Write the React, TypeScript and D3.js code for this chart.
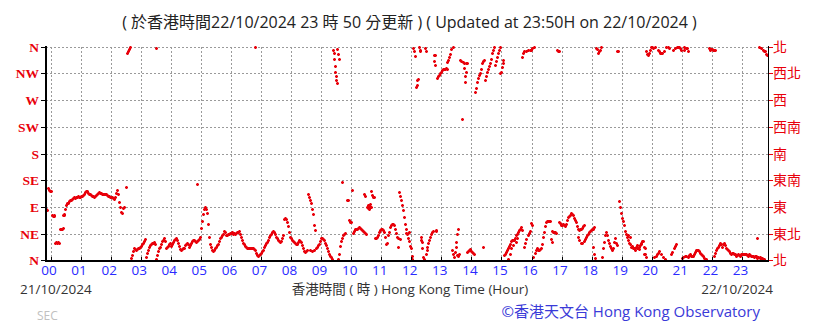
import React from 'react';
import * as d3 from 'd3';

const _ = null;

const hourLabels = ['00','01','02','03','04','05','06','07','08','09','10','11','12','13','14','15','16','17','18','19','20','21','22','23'];
const dirTicks = [0, 45, 90, 135, 180, 225, 270, 315, 360];
const dirLabelsEn = ['N', 'NE', 'E', 'SE', 'S', 'SW', 'W', 'NW', 'N'];
const dirLabelsZh = ['北', '東北', '東', '東南', '南', '西南', '西', '西北', '北'];

const titleText = '( 於香港時間22/10/2024 23 時 50 分更新 ) ( Updated at 23:50H on 22/10/2024 )';
const startDate = '21/10/2024';
const endDate = '22/10/2024';
const axisTitle = '香港時間 ( 時 ) Hong Kong Time (Hour)';
const credit = '©香港天文台 Hong Kong Observatory';

// wind direction (degrees) sampled every 2 minutes; prevDay = 23:50-23:58 of the previous day
const prevDay = [86, 84, 122, 119, 116];
const d00 = [117,76,75,74,30,31,29,31,30,52,53,52,54,77,87,93,96,97,100,101,102,103,105,106,105,107,107,108,107,106];
const d01 = [108,109,110,112,115,117,116,114,112,111,110,109,108,107,108,110,111,113,115,114,113,112,112,111,112,111,110,109,108,107];
const d02 = [107,106,105,104,106,113,118,112,98,90,82,80,88,90,_,123,350,353,356,359,4,9,16,20,19,17,19,21,20,22];
const d03 = [24,27,30,33,36,6,12,18,22,26,28,30,29,31,27,3,9,16,21,23,27,32,35,38,33,20,22,24,27,30];
const d04 = [24,28,31,34,36,37,34,30,24,19,17,19,20,21,25,28,30,27,22,25,29,32,34,35,33,31,33,35,36,40];
const d05 = [55,66,78,86,90,87,80,62,40,28,22,18,16,17,20,22,25,27,32,37,40,43,45,50,48,42,43,44,45,46];
const d06 = [46,47,45,46,44,46,47,48,49,45,40,35,30,27,24,22,21,20,20,21,20,21,20,19,17,13,9,7,9,11];
const d07 = [13,15,18,22,25,29,31,35,39,42,45,48,49,47,44,40,37,34,32,31,33,38,43,70,72,70,64,57,48,40];
const d08 = [37,35,33,31,29,27,28,31,34,33,31,25,20,16,14,16,18,112,107,101,96,87,78,60,51,20,22,25,28,33];
const d09 = [38,37,36,34,30,26,21,16,11,8,5,3,355,340,318,304,356,347,10,24,33,38,42,45,46,_,101,102,68,65];
const d10 = [64,118,46,50,52,52,53,54,56,54,53,51,50,48,46,44,90,88,92,90,117,110,107,106,37,38,39,43,48,51];
const d11 = [52,53,51,48,40,28,30,42,48,56,60,62,61,59,52,46,40,38,115,109,102,94,84,73,62,52,45,38,32,24];
const d12 = [20,8,358,352,345,292,304,306,359,354,34,20,6,3,358,352,22,30,35,40,45,47,49,336,346,50,308,310,312,315];
const d13 = [318,321,322,323,323,324,334,338,343,347,356,17,11,6,14,31,9,8,11,338,336,238,334,324,310,332,14,16,18,19];
const d14 = [16,14,12,11,284,290,300,307,312,316,323,332,336,338,304,310,318,323,327,333,340,349,354,359,330,336,343,349,354,315];
const d15 = [318,326,338,9,11,14,17,20,24,27,33,35,34,35,38,42,45,48,51,53,56,51,349,22,30,36,42,46,50,63];
const d16 = [60,6,359,12,18,20,17,18,19,21,28,39,48,58,64,66,67,67,66,36,50,48,48,47,46,354,353,64,63,60];
const d17 = [60,62,59,57,62,68,73,75,77,79,78,76,72,68,64,58,53,51,52,53,55,57,59,36,39,42,45,47,49,51];
const d18 = [53,22,11,4,358,356,349,353,355,359,6,20,31,42,47,43,34,29,24,20,17,20,31,37,30,26,352,100,90,80];
const d19 = [72,66,59,50,45,40,34,30,27,23,22,21,20,21,22,21,20,22,25,28,32,33,22,11,352,348,346,349,354,359];
const d20 = [359,357,6,359,8,10,354,16,350,11,349,6,353,3,359,_,360,357,_,11,14,354,21,24,28,359,360,359,357,355];
const d21 = [4,6,354,7,8,357,6,9,10,8,7,8,10,14,17,18,18,16,13,11,9,7,4,3,2,_,_,357,355,356];
const d22 = [356,354,8,13,17,20,22,25,30,28,23,27,30,25,21,19,17,15,12,11,12,12,10,11,8,9,11,9,8,11];
const d23 = [11,10,10,11,11,9,8,10,9,7,8,8,6,7,7,37,5,359,6,357,4,354,3,352,348,346];

// additional readings [minute of day, degrees] where several clusters overlap in time
const extraPoints: [number, number][] = [
  [3,77],[7,76],[15,31],[18,53],[21,53],[24,76],[26,78],
  [210,357],[293,129],[408,359],
  [518,18],[522,16],[526,18],
  [565,349],[567,328],[569,310],[571,298],[573,3],[575,340],[581,132],
  [626,112],[628,108],[633,93],[635,86],[637,95],[639,89],
  [693,22],[697,36],[709,46],[711,45],[713,46],[715,47],
  [722,3],[731,296],[737,352],[739,39],[741,31],[749,11],[751,18],[765,346],[767,329],[769,51],
  [792,322],[804,359],[809,22],[811,45],[813,53],[825,333],[827,301],[829,318],[831,332],
  [864,22],[898,359],
  [903,332],[914,3],[917,11],[920,20],[924,25],[929,31],[931,37],[942,343],[945,352],[949,352],[952,354],[956,354],[959,354],
  [961,357],[965,359],[1015,352],[1000,31],[1009,46],
  [1052,39],[1055,34],[1058,29],[1061,30],[1064,33],
  [1083,53],[1085,56],[1131,352],
  [1153,42],[1157,39],[1160,24],[1166,18],[1170,25],[1174,19],[1178,30],[1185,11],[1187,20],[1189,6],
  [1213,12],[1215,352],[1219,350],[1243,354],[1247,358],
  [1265,359],[1269,357],[1273,352],[1315,357],
  [1325,355],[1327,354],
  [1411,4],[1416,4],[1421,3],[1425,353],[1429,347],
];

const hourSeries = [d00,d01,d02,d03,d04,d05,d06,d07,d08,d09,d10,d11,d12,d13,d14,d15,d16,d17,d18,d19,d20,d21,d22,d23];

const W = 819;
const H = 323;
const RED = '#e8000a';

export default function App() {
  const x = d3.scaleLinear().domain([-10, 1432]).range([45.5, 768]);
  const y = d3.scaleLinear().domain([0, 360]).range([260.3, 46.7]);

  const pts: [number, number][] = [];
  prevDay.forEach((v, i) => { if (v != null) pts.push([-10 + 2 * i, v]); });
  hourSeries.forEach((arr, h) => arr.forEach((v, i) => { if (v != null) pts.push([h * 60 + 2 * i, v as number]); }));
  extraPoints.forEach(p => pts.push(p));

  const markerPath = pts.map(([t, v]) => {
    const px = Math.round(x(t)) + 0.5;
    const py = Math.round(y(v)) + 0.5;
    return `M${px - 1.5},${py}h3M${px},${py - 1.5}v3`;
  }).join('');

  const gridX = d3.range(0, 24).map(h => h * 60);

  return (
    <svg width={W} height={H} style={{ position: 'absolute', left: 0, top: 0, background: '#fff' }}
      fontFamily="'Open Sans', 'Noto Sans CJK TC', sans-serif">
      <rect x={0} y={0} width={W} height={H} fill="#fff" />
      <text x={409.5} y={28} textAnchor="middle" fontSize={16} fill="#222">{titleText}</text>

      {/* grid */}
      <g stroke="#9a9a9a" strokeWidth={1} strokeDasharray="2,2" shapeRendering="crispEdges">
        {dirTicks.slice(1).map(d => (
          <line key={'gy' + d} x1={46} x2={768} y1={Math.round(y(d)) + 0.5} y2={Math.round(y(d)) + 0.5} />
        ))}
        {gridX.map(t => (
          <line key={'gx' + t} x1={Math.round(x(t)) + 0.5} x2={Math.round(x(t)) + 0.5} y1={47} y2={260} />
        ))}
      </g>

      {/* data */}
      <path d={markerPath} stroke={RED} strokeWidth={1.6} fill="none" />

      {/* axes */}
      <g stroke="#000" shapeRendering="crispEdges">
        <line x1={45.5} x2={45.5} y1={46} y2={262} strokeWidth={2} />
        <line x1={45} x2={769} y1={261} y2={261} strokeWidth={2} />
        <line x1={768.5} x2={768.5} y1={46} y2={262} strokeWidth={1.5} />
        {dirTicks.map(d => (
          <line key={'lt' + d} x1={41} x2={45} y1={Math.round(y(d)) + 0.5} y2={Math.round(y(d)) + 0.5} strokeWidth={1} />
        ))}
        {gridX.map(t => (
          <line key={'bt' + t} x1={Math.round(x(t)) + 0.5} x2={Math.round(x(t)) + 0.5} y1={257} y2={260} strokeWidth={1} />
        ))}
      </g>
      <g stroke={RED} shapeRendering="crispEdges">
        {dirTicks.map(d => (
          <line key={'rt' + d} x1={769} x2={773} y1={Math.round(y(d)) + 0.5} y2={Math.round(y(d)) + 0.5} strokeWidth={1} />
        ))}
      </g>

      {/* left labels */}
      {dirLabelsEn.map((l, i) => (
        <text key={'le' + i} x={39} y={y(dirTicks[i]) + 5} textAnchor="end" fontSize={13.5}
          fontFamily="'Liberation Serif', serif" fontWeight="bold" fill={RED}>{l}</text>
      ))}
      {/* right labels */}
      {dirLabelsZh.map((l, i) => (
        <text key={'lz' + i} x={773} y={y(dirTicks[i]) + 5} textAnchor="start" fontSize={14}
          fontFamily="'Noto Sans CJK TC', sans-serif" fill={RED}>{l}</text>
      ))}

      {/* hour labels */}
      {hourLabels.map((l, i) => (
        <text key={'hl' + i} x={x(i * 60) - 1.5} y={275} textAnchor="middle" fontSize={13.5} fill="#2a2aff">{l}</text>
      ))}

      <text x={20} y={294} fontSize={13.5} fill="#333">{startDate}</text>
      <text x={410} y={294} textAnchor="middle" fontSize={13.5} fill="#333">{axisTitle}</text>
      <text x={773} y={294} textAnchor="end" fontSize={13.5} fill="#333">{endDate}</text>
      <text x={760} y={317} textAnchor="end" fontSize={15} fill="#3a3ad8">{credit}</text>
      <text x={37} y={320} fontSize={12} fill="#c0c0c0">SEC</text>
    </svg>
  );
}
